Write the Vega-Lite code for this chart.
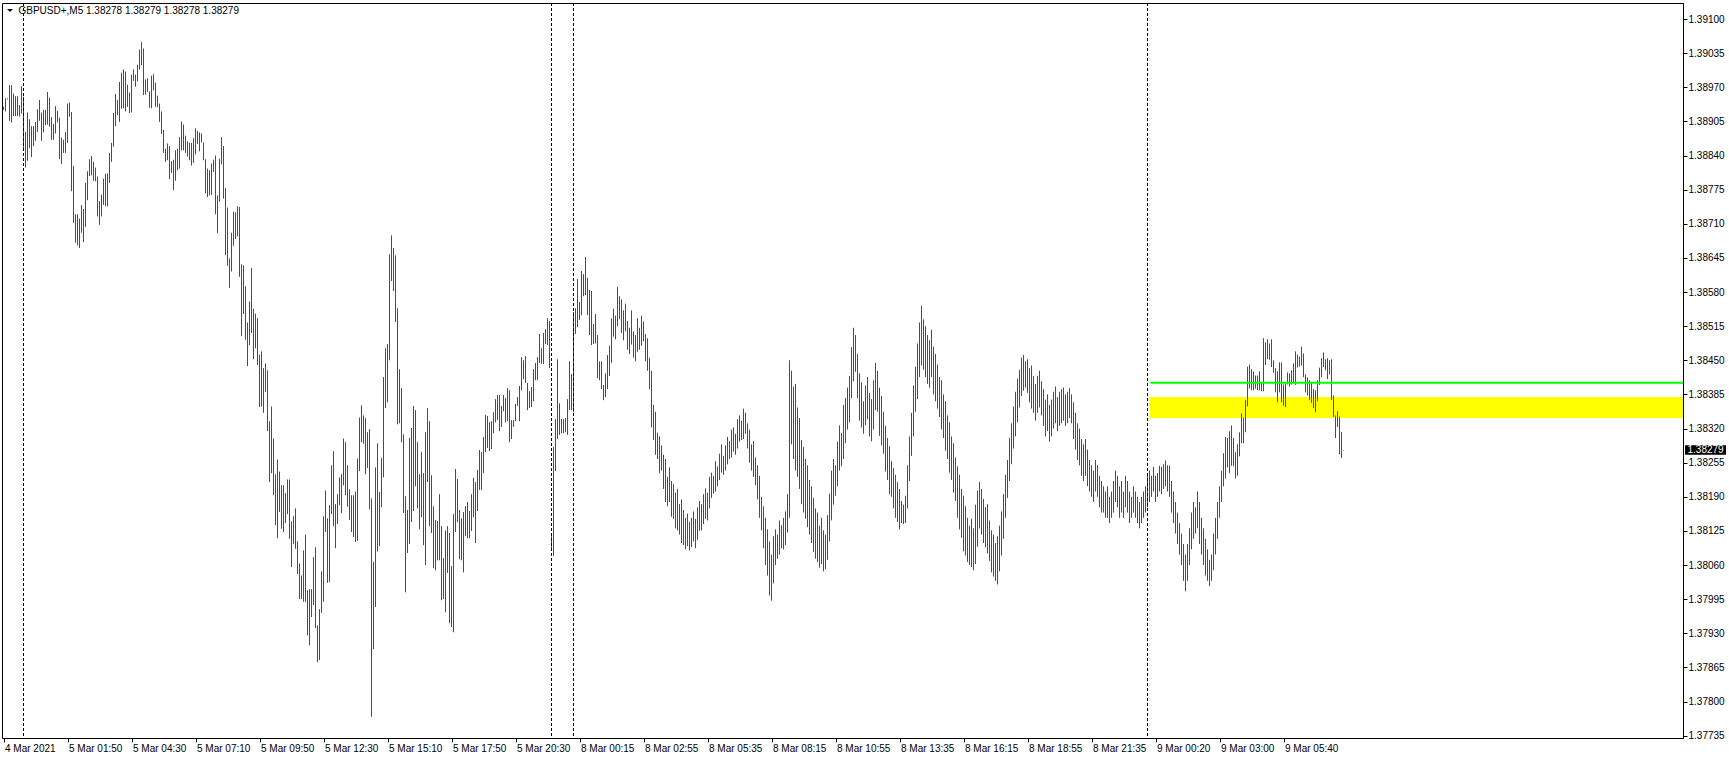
{
"$schema":"https://vega.github.io/schema/vega-lite/v6.json",
"width":1681,"height":735,
"autosize":{"type":"none"},
"padding":{"left":2,"top":3,"right":46,"bottom":21},
"background":"white",
"config":{"view":{"stroke":"black","strokeWidth":1}},
"datasets":{
"bars":[
{"i":0,"h":1.38933,"l":1.38927},{"i":1,"h":1.38949,"l":1.38924},{"i":2,"h":1.38949,"l":1.38947},{"i":3,"h":1.38974,"l":1.38906},{"i":4,"h":1.38974,"l":1.38903},{"i":5,"h":1.38958,"l":1.38915},{"i":6,"h":1.38953,"l":1.38915},{"i":7,"h":1.38953,"l":1.38915},{"i":8,"h":1.38936,"l":1.38914},{"i":9,"h":1.38972,"l":1.3892},
{"i":10,"h":1.38952,"l":1.38854},{"i":11,"h":1.38885,"l":1.38817},{"i":12,"h":1.38922,"l":1.3883},{"i":13,"h":1.38909,"l":1.38854},{"i":14,"h":1.38896,"l":1.38837},{"i":15,"h":1.38896,"l":1.38858},{"i":16,"h":1.38904,"l":1.38868},{"i":17,"h":1.38928,"l":1.38885},{"i":18,"h":1.38946,"l":1.38906},{"i":19,"h":1.38922,"l":1.38868},
{"i":20,"h":1.38927,"l":1.38884},{"i":21,"h":1.38927,"l":1.38898},{"i":22,"h":1.38961,"l":1.38899},{"i":23,"h":1.3895,"l":1.38895},{"i":24,"h":1.38913,"l":1.3887},{"i":25,"h":1.389,"l":1.3887},{"i":26,"h":1.38934,"l":1.38882},{"i":27,"h":1.38925,"l":1.38903},{"i":28,"h":1.38912,"l":1.38833},{"i":29,"h":1.38874,"l":1.38824},
{"i":30,"h":1.3887,"l":1.38845},{"i":31,"h":1.38885,"l":1.38845},{"i":32,"h":1.38939,"l":1.38864},{"i":33,"h":1.38941,"l":1.38914},{"i":34,"h":1.38923,"l":1.38772},{"i":35,"h":1.3882,"l":1.38712},{"i":36,"h":1.38728,"l":1.38674},{"i":37,"h":1.38728,"l":1.38669},{"i":38,"h":1.3872,"l":1.38664},{"i":39,"h":1.38746,"l":1.38693},
{"i":40,"h":1.38738,"l":1.38675},{"i":41,"h":1.38788,"l":1.38704},{"i":42,"h":1.3881,"l":1.38755},{"i":43,"h":1.38833,"l":1.38801},{"i":44,"h":1.38839,"l":1.38802},{"i":45,"h":1.38828,"l":1.38792},{"i":46,"h":1.38817,"l":1.38791},{"i":47,"h":1.388,"l":1.38724},{"i":48,"h":1.38753,"l":1.38708},{"i":49,"h":1.38765,"l":1.38724},
{"i":50,"h":1.38796,"l":1.38746},{"i":51,"h":1.38805,"l":1.38744},{"i":52,"h":1.38806,"l":1.38743},{"i":53,"h":1.38845,"l":1.38788},{"i":54,"h":1.38864,"l":1.38828},{"i":55,"h":1.38921,"l":1.38857},{"i":56,"h":1.38957,"l":1.38896},{"i":57,"h":1.38946,"l":1.38917},{"i":58,"h":1.3898,"l":1.38904},{"i":59,"h":1.38998,"l":1.38929},
{"i":60,"h":1.39004,"l":1.3893},{"i":61,"h":1.39,"l":1.38924},{"i":62,"h":1.38975,"l":1.38933},{"i":63,"h":1.3896,"l":1.38921},{"i":64,"h":1.38994,"l":1.38922},{"i":65,"h":1.39004,"l":1.38982},{"i":66,"h":1.38994,"l":1.38971},{"i":67,"h":1.39013,"l":1.38981},{"i":68,"h":1.39042,"l":1.39004},{"i":69,"h":1.39056,"l":1.39012},
{"i":70,"h":1.39044,"l":1.38955},{"i":71,"h":1.38985,"l":1.38956},{"i":72,"h":1.38987,"l":1.38961},{"i":73,"h":1.38962,"l":1.38931},{"i":74,"h":1.38992,"l":1.3893},{"i":75,"h":1.38995,"l":1.38964},{"i":76,"h":1.38979,"l":1.38933},{"i":77,"h":1.38954,"l":1.38932},{"i":78,"h":1.38939,"l":1.38904},{"i":79,"h":1.38924,"l":1.38881},
{"i":80,"h":1.38889,"l":1.38845},{"i":81,"h":1.38853,"l":1.38828},{"i":82,"h":1.38863,"l":1.38831},{"i":83,"h":1.38858,"l":1.38795},{"i":84,"h":1.38829,"l":1.38807},{"i":85,"h":1.38832,"l":1.38774},{"i":86,"h":1.3885,"l":1.38792},{"i":87,"h":1.38853,"l":1.38812},{"i":88,"h":1.38875,"l":1.38815},{"i":89,"h":1.38905,"l":1.3885},
{"i":90,"h":1.38899,"l":1.3885},{"i":91,"h":1.38878,"l":1.38845},{"i":92,"h":1.38867,"l":1.38838},{"i":93,"h":1.38864,"l":1.38831},{"i":94,"h":1.38864,"l":1.38821},{"i":95,"h":1.38873,"l":1.38826},{"i":96,"h":1.38892,"l":1.38842},{"i":97,"h":1.38887,"l":1.38862},{"i":98,"h":1.38884,"l":1.38848},{"i":99,"h":1.38882,"l":1.38865},
{"i":100,"h":1.38865,"l":1.38831},{"i":101,"h":1.38833,"l":1.38768},{"i":102,"h":1.38815,"l":1.38761},{"i":103,"h":1.38812,"l":1.38764},{"i":104,"h":1.38825,"l":1.38765},{"i":105,"h":1.38832,"l":1.38809},{"i":106,"h":1.3884,"l":1.38728},{"i":107,"h":1.38764,"l":1.38692},{"i":108,"h":1.38834,"l":1.38752},{"i":109,"h":1.38875,"l":1.38823},
{"i":110,"h":1.38858,"l":1.38758},{"i":111,"h":1.38778,"l":1.3865},{"i":112,"h":1.38741,"l":1.3863},{"i":113,"h":1.38644,"l":1.38588},{"i":114,"h":1.38693,"l":1.38619},{"i":115,"h":1.38733,"l":1.38668},{"i":116,"h":1.38732,"l":1.38681},{"i":117,"h":1.38743,"l":1.38686},{"i":118,"h":1.38742,"l":1.38609},{"i":119,"h":1.38633,"l":1.38496},
{"i":120,"h":1.38631,"l":1.38538},{"i":121,"h":1.38591,"l":1.38489},{"i":122,"h":1.38522,"l":1.38439},{"i":123,"h":1.38562,"l":1.38479},{"i":124,"h":1.38626,"l":1.38502},{"i":125,"h":1.38548,"l":1.38452},{"i":126,"h":1.38539,"l":1.38473},{"i":127,"h":1.3853,"l":1.38441},{"i":128,"h":1.38461,"l":1.38361},{"i":129,"h":1.38467,"l":1.38362},
{"i":130,"h":1.38435,"l":1.3835},{"i":131,"h":1.38444,"l":1.3839},{"i":132,"h":1.38431,"l":1.38315},{"i":133,"h":1.38334,"l":1.38218},{"i":134,"h":1.38362,"l":1.38235},{"i":135,"h":1.38301,"l":1.38193},{"i":136,"h":1.38233,"l":1.38136},{"i":137,"h":1.38261,"l":1.38111},{"i":138,"h":1.38238,"l":1.38161},{"i":139,"h":1.38212,"l":1.38129},
{"i":140,"h":1.38212,"l":1.38123},{"i":141,"h":1.38197,"l":1.3814},{"i":142,"h":1.38223,"l":1.38157},{"i":143,"h":1.38223,"l":1.3811},{"i":144,"h":1.38143,"l":1.38056},{"i":145,"h":1.38153,"l":1.381},{"i":146,"h":1.38168,"l":1.38091},{"i":147,"h":1.38105,"l":1.38043},{"i":148,"h":1.38063,"l":1.37995},{"i":149,"h":1.3804,"l":1.37995},
{"i":150,"h":1.38088,"l":1.3799},{"i":151,"h":1.38118,"l":1.3799},{"i":152,"h":1.38012,"l":1.37926},{"i":153,"h":1.38014,"l":1.37907},{"i":154,"h":1.38014,"l":1.37961},{"i":155,"h":1.38075,"l":1.37984},{"i":156,"h":1.38094,"l":1.3794},{"i":157,"h":1.37945,"l":1.37875},{"i":158,"h":1.37976,"l":1.37879},{"i":159,"h":1.38048,"l":1.37969},
{"i":160,"h":1.38153,"l":1.3799},{"i":161,"h":1.38202,"l":1.38123},{"i":162,"h":1.38149,"l":1.38026},{"i":163,"h":1.38174,"l":1.38028},{"i":164,"h":1.3825,"l":1.38157},{"i":165,"h":1.38277,"l":1.38134},{"i":166,"h":1.38176,"l":1.38092},{"i":167,"h":1.38195,"l":1.38138},{"i":168,"h":1.38227,"l":1.38174},{"i":169,"h":1.38233,"l":1.38159},
{"i":170,"h":1.38301,"l":1.38212},{"i":171,"h":1.38294,"l":1.38193},{"i":172,"h":1.3825,"l":1.38171},{"i":173,"h":1.38204,"l":1.38146},{"i":174,"h":1.38193,"l":1.38123},{"i":175,"h":1.38193,"l":1.38113},{"i":176,"h":1.382,"l":1.38104},{"i":177,"h":1.38263,"l":1.38106},{"i":178,"h":1.38341,"l":1.38239},{"i":179,"h":1.38364,"l":1.38294},
{"i":180,"h":1.38345,"l":1.38291},{"i":181,"h":1.3834,"l":1.38233},{"i":182,"h":1.38313,"l":1.38245},{"i":183,"h":1.38319,"l":1.38166},{"i":184,"h":1.38187,"l":1.37771},{"i":185,"h":1.38066,"l":1.379},{"i":186,"h":1.38246,"l":1.3798},{"i":187,"h":1.38292,"l":1.38086},{"i":188,"h":1.38199,"l":1.38096},{"i":189,"h":1.38264,"l":1.3817},
{"i":190,"h":1.38418,"l":1.38227},{"i":191,"h":1.38473,"l":1.38359},{"i":192,"h":1.38481,"l":1.3837},{"i":193,"h":1.38652,"l":1.3845},{"i":194,"h":1.38688,"l":1.38601},{"i":195,"h":1.38664,"l":1.38582},{"i":196,"h":1.3865,"l":1.38523},{"i":197,"h":1.38549,"l":1.38328},{"i":198,"h":1.38433,"l":1.3833},{"i":199,"h":1.38397,"l":1.38294},
{"i":200,"h":1.38309,"l":1.38159},{"i":201,"h":1.38191,"l":1.38008},{"i":202,"h":1.38165,"l":1.38083},{"i":203,"h":1.38302,"l":1.381},{"i":204,"h":1.38321,"l":1.38142},{"i":205,"h":1.38363,"l":1.38163},{"i":206,"h":1.38355,"l":1.3821},{"i":207,"h":1.38294,"l":1.38168},{"i":208,"h":1.38233,"l":1.38128},{"i":209,"h":1.38275,"l":1.38151},
{"i":210,"h":1.38235,"l":1.38098},{"i":211,"h":1.38313,"l":1.3806},{"i":212,"h":1.38359,"l":1.38218},{"i":213,"h":1.38334,"l":1.38134},{"i":214,"h":1.38231,"l":1.38121},{"i":215,"h":1.38172,"l":1.38054},{"i":216,"h":1.38146,"l":1.3805},{"i":217,"h":1.38144,"l":1.38069},{"i":218,"h":1.38195,"l":1.38069},{"i":219,"h":1.38134,"l":1.37993},
{"i":220,"h":1.38073,"l":1.37995},{"i":221,"h":1.38126,"l":1.3797},{"i":222,"h":1.38134,"l":1.38045},{"i":223,"h":1.38121,"l":1.37949},{"i":224,"h":1.38058,"l":1.37942},{"i":225,"h":1.38157,"l":1.37932},{"i":226,"h":1.38243,"l":1.38123},{"i":227,"h":1.38224,"l":1.38142},{"i":228,"h":1.38165,"l":1.38071},{"i":229,"h":1.38149,"l":1.38069},
{"i":230,"h":1.38161,"l":1.38046},{"i":231,"h":1.38172,"l":1.38115},{"i":232,"h":1.3818,"l":1.38111},{"i":233,"h":1.38163,"l":1.38111},{"i":234,"h":1.38195,"l":1.38125},{"i":235,"h":1.38226,"l":1.38151},{"i":236,"h":1.38218,"l":1.38102},{"i":237,"h":1.38241,"l":1.38163},{"i":238,"h":1.38279,"l":1.38203},{"i":239,"h":1.38275,"l":1.38203},
{"i":240,"h":1.38304,"l":1.38235},{"i":241,"h":1.38346,"l":1.38275},{"i":242,"h":1.38344,"l":1.38283},{"i":243,"h":1.38332,"l":1.38277},{"i":244,"h":1.38334,"l":1.38281},{"i":245,"h":1.38351,"l":1.38311},{"i":246,"h":1.38376,"l":1.38332},{"i":247,"h":1.38384,"l":1.38336},{"i":248,"h":1.38384,"l":1.38315},{"i":249,"h":1.38363,"l":1.38323},
{"i":250,"h":1.38384,"l":1.38353},{"i":251,"h":1.38378,"l":1.38332},{"i":252,"h":1.38397,"l":1.38334},{"i":253,"h":1.38393,"l":1.38294},{"i":254,"h":1.38336,"l":1.383},{"i":255,"h":1.38336,"l":1.38323},{"i":256,"h":1.38367,"l":1.38334},{"i":257,"h":1.3838,"l":1.38363},{"i":258,"h":1.38401,"l":1.38334},{"i":259,"h":1.38456,"l":1.38393},
{"i":260,"h":1.3845,"l":1.38414},{"i":261,"h":1.38458,"l":1.38407},{"i":262,"h":1.38407,"l":1.38355},{"i":263,"h":1.38391,"l":1.38359},{"i":264,"h":1.38399,"l":1.38361},{"i":265,"h":1.38433,"l":1.38372},{"i":266,"h":1.38445,"l":1.38412},{"i":267,"h":1.38456,"l":1.38412},{"i":268,"h":1.385,"l":1.38445},{"i":269,"h":1.38473,"l":1.38443},
{"i":270,"h":1.38502,"l":1.38443},{"i":271,"h":1.38509,"l":1.38481},{"i":272,"h":1.3853,"l":1.38479},{"i":273,"h":1.38525,"l":1.38435},{"i":274,"h":1.38115,"l":1.38087},{"i":275,"h":1.38285,"l":1.38077},{"i":276,"h":1.38338,"l":1.38239},{"i":277,"h":1.38452,"l":1.383},{"i":278,"h":1.38368,"l":1.38308},{"i":279,"h":1.38338,"l":1.38311},
{"i":280,"h":1.38338,"l":1.38311},{"i":281,"h":1.3834,"l":1.38313},{"i":282,"h":1.38376,"l":1.38308},{"i":283,"h":1.38448,"l":1.38355},{"i":284,"h":1.38424,"l":1.38355},{"i":285,"h":1.38542,"l":1.38351},{"i":286,"h":1.38549,"l":1.385},{"i":287,"h":1.38605,"l":1.38513},{"i":288,"h":1.38561,"l":1.38527},{"i":289,"h":1.3862,"l":1.38536},
{"i":290,"h":1.38614,"l":1.38572},{"i":291,"h":1.38647,"l":1.38574},{"i":292,"h":1.38607,"l":1.38536},{"i":293,"h":1.38584,"l":1.38498},{"i":294,"h":1.38582,"l":1.38479},{"i":295,"h":1.38519,"l":1.38481},{"i":296,"h":1.38538,"l":1.38482},{"i":297,"h":1.38498,"l":1.38416},{"i":298,"h":1.38448,"l":1.38412},{"i":299,"h":1.38448,"l":1.38395},
{"i":300,"h":1.38403,"l":1.38374},{"i":301,"h":1.38425,"l":1.3838},{"i":302,"h":1.3846,"l":1.38395},{"i":303,"h":1.38478,"l":1.3842},{"i":304,"h":1.3853,"l":1.38445},{"i":305,"h":1.38548,"l":1.38495},{"i":306,"h":1.38535,"l":1.3849},{"i":307,"h":1.3859,"l":1.38515},{"i":308,"h":1.38572,"l":1.38528},{"i":309,"h":1.38566,"l":1.38502},
{"i":310,"h":1.38545,"l":1.38488},{"i":311,"h":1.38558,"l":1.38505},{"i":312,"h":1.38525,"l":1.3847},{"i":313,"h":1.38512,"l":1.38462},{"i":314,"h":1.38545,"l":1.3848},{"i":315,"h":1.38505,"l":1.38455},{"i":316,"h":1.38498,"l":1.38448},{"i":317,"h":1.3853,"l":1.38466},{"i":318,"h":1.38512,"l":1.3847},{"i":319,"h":1.38535,"l":1.38478},
{"i":320,"h":1.38524,"l":1.38486},{"i":321,"h":1.385,"l":1.38448},{"i":322,"h":1.38492,"l":1.3843},{"i":323,"h":1.38455,"l":1.38395},{"i":324,"h":1.3843,"l":1.38322},{"i":325,"h":1.38365,"l":1.38298},{"i":326,"h":1.38352,"l":1.3827},{"i":327,"h":1.38312,"l":1.38262},{"i":328,"h":1.38305,"l":1.38235},{"i":329,"h":1.38288,"l":1.3824},
{"i":330,"h":1.3827,"l":1.38205},{"i":331,"h":1.38262,"l":1.3818},{"i":332,"h":1.38228,"l":1.38172},{"i":333,"h":1.38246,"l":1.3818},{"i":334,"h":1.3822,"l":1.38152},{"i":335,"h":1.38214,"l":1.38148},{"i":336,"h":1.38198,"l":1.3813},{"i":337,"h":1.38205,"l":1.38126},{"i":338,"h":1.38176,"l":1.38118},{"i":339,"h":1.38185,"l":1.38102},
{"i":340,"h":1.38165,"l":1.38098},{"i":341,"h":1.3815,"l":1.3809},{"i":342,"h":1.38158,"l":1.38096},{"i":343,"h":1.38142,"l":1.38088},{"i":344,"h":1.3815,"l":1.38094},{"i":345,"h":1.38162,"l":1.38105},{"i":346,"h":1.38148,"l":1.38092},{"i":347,"h":1.3817,"l":1.38108},{"i":348,"h":1.38182,"l":1.38125},{"i":349,"h":1.38176,"l":1.38126},
{"i":350,"h":1.38195,"l":1.38138},{"i":351,"h":1.38206,"l":1.38148},{"i":352,"h":1.38198,"l":1.38145},{"i":353,"h":1.38228,"l":1.38168},{"i":354,"h":1.38236,"l":1.38188},{"i":355,"h":1.3823,"l":1.38196},{"i":356,"h":1.38258,"l":1.382},{"i":357,"h":1.38248,"l":1.3821},{"i":358,"h":1.38272,"l":1.38222},{"i":359,"h":1.3829,"l":1.38236},
{"i":360,"h":1.38268,"l":1.38232},{"i":361,"h":1.38288,"l":1.3824},{"i":362,"h":1.38304,"l":1.38252},{"i":363,"h":1.38296,"l":1.38262},{"i":364,"h":1.38318,"l":1.38265},{"i":365,"h":1.38322,"l":1.38276},{"i":366,"h":1.3831,"l":1.3827},{"i":367,"h":1.38338,"l":1.38282},{"i":368,"h":1.38345,"l":1.38295},{"i":369,"h":1.38335,"l":1.38298},
{"i":370,"h":1.38358,"l":1.383},{"i":371,"h":1.3835,"l":1.3831},{"i":372,"h":1.3833,"l":1.38282},{"i":373,"h":1.38318,"l":1.38255},{"i":374,"h":1.3829,"l":1.3824},{"i":375,"h":1.38296,"l":1.38228},{"i":376,"h":1.38265,"l":1.38212},{"i":377,"h":1.3825,"l":1.38185},{"i":378,"h":1.3823,"l":1.3815},{"i":379,"h":1.3819,"l":1.38126},
{"i":380,"h":1.38172,"l":1.38092},{"i":381,"h":1.3815,"l":1.3806},{"i":382,"h":1.38128,"l":1.3804},{"i":383,"h":1.38105,"l":1.38002},{"i":384,"h":1.3808,"l":1.37992},{"i":385,"h":1.38115,"l":1.38025},{"i":386,"h":1.38128,"l":1.3806},{"i":387,"h":1.38118,"l":1.38072},{"i":388,"h":1.38145,"l":1.3808},{"i":389,"h":1.38136,"l":1.38092},
{"i":390,"h":1.3815,"l":1.3809},{"i":391,"h":1.38162,"l":1.38098},{"i":392,"h":1.38195,"l":1.38122},{"i":393,"h":1.3845,"l":1.3815},{"i":394,"h":1.3843,"l":1.3829},{"i":395,"h":1.384,"l":1.38262},{"i":396,"h":1.38405,"l":1.3824},{"i":397,"h":1.3836,"l":1.38228},{"i":398,"h":1.3834,"l":1.38205},{"i":399,"h":1.38298,"l":1.38176},
{"i":400,"h":1.38285,"l":1.3816},{"i":401,"h":1.38262,"l":1.38148},{"i":402,"h":1.3825,"l":1.38132},{"i":403,"h":1.38222,"l":1.38118},{"i":404,"h":1.3821,"l":1.38102},{"i":405,"h":1.38188,"l":1.38085},{"i":406,"h":1.38168,"l":1.38072},{"i":407,"h":1.3816,"l":1.38066},{"i":408,"h":1.38135,"l":1.38055},{"i":409,"h":1.3815,"l":1.38062},
{"i":410,"h":1.38126,"l":1.38048},{"i":411,"h":1.38118,"l":1.38052},{"i":412,"h":1.38155,"l":1.3807},{"i":413,"h":1.38196,"l":1.38105},{"i":414,"h":1.3824,"l":1.38145},{"i":415,"h":1.38262,"l":1.38175},{"i":416,"h":1.3825,"l":1.38192},{"i":417,"h":1.38295,"l":1.3821},{"i":418,"h":1.38326,"l":1.3824},{"i":419,"h":1.38312,"l":1.38248},
{"i":420,"h":1.38365,"l":1.38262},{"i":421,"h":1.38378,"l":1.38292},{"i":422,"h":1.38398,"l":1.38318},{"i":423,"h":1.3842,"l":1.38332},{"i":424,"h":1.38475,"l":1.38378},{"i":425,"h":1.38512,"l":1.3841},{"i":426,"h":1.38498,"l":1.38428},{"i":427,"h":1.38462,"l":1.38378},{"i":428,"h":1.38425,"l":1.38335},{"i":429,"h":1.38408,"l":1.38322},
{"i":430,"h":1.38372,"l":1.3831},{"i":431,"h":1.38402,"l":1.38326},{"i":432,"h":1.38418,"l":1.38338},{"i":433,"h":1.38388,"l":1.38305},{"i":434,"h":1.38376,"l":1.38296},{"i":435,"h":1.38412,"l":1.38318},{"i":436,"h":1.38445,"l":1.38355},{"i":437,"h":1.3843,"l":1.38352},{"i":438,"h":1.38398,"l":1.38306},{"i":439,"h":1.38382,"l":1.38288},
{"i":440,"h":1.38352,"l":1.38272},{"i":441,"h":1.38325,"l":1.38238},{"i":442,"h":1.38302,"l":1.38222},{"i":443,"h":1.38286,"l":1.38195},{"i":444,"h":1.38258,"l":1.3819},{"i":445,"h":1.38245,"l":1.38168},{"i":446,"h":1.38232,"l":1.3815},{"i":447,"h":1.38218,"l":1.38142},{"i":448,"h":1.38205,"l":1.38128},{"i":449,"h":1.38182,"l":1.3814},
{"i":450,"h":1.38175,"l":1.38138},{"i":451,"h":1.38192,"l":1.3814},{"i":452,"h":1.3825,"l":1.38168},{"i":453,"h":1.38305,"l":1.3822},{"i":454,"h":1.3835,"l":1.38268},{"i":455,"h":1.38402,"l":1.38305},{"i":456,"h":1.38438,"l":1.38352},{"i":457,"h":1.38482,"l":1.38376},{"i":458,"h":1.38522,"l":1.38418},{"i":459,"h":1.38554,"l":1.3844},
{"i":460,"h":1.38528,"l":1.38432},{"i":461,"h":1.38515,"l":1.38418},{"i":462,"h":1.38498,"l":1.38405},{"i":463,"h":1.38488,"l":1.38398},{"i":464,"h":1.38508,"l":1.38418},{"i":465,"h":1.38476,"l":1.38385},{"i":466,"h":1.38462,"l":1.38372},{"i":467,"h":1.38442,"l":1.38358},{"i":468,"h":1.38418,"l":1.38342},{"i":469,"h":1.38412,"l":1.38318},
{"i":470,"h":1.38385,"l":1.38302},{"i":471,"h":1.38372,"l":1.38278},{"i":472,"h":1.38345,"l":1.38262},{"i":473,"h":1.38332,"l":1.38236},{"i":474,"h":1.38305,"l":1.38222},{"i":475,"h":1.38292,"l":1.38198},{"i":476,"h":1.38265,"l":1.38182},{"i":477,"h":1.38248,"l":1.3815},{"i":478,"h":1.38232,"l":1.38128},{"i":479,"h":1.38205,"l":1.38112},
{"i":480,"h":1.38192,"l":1.38086},{"i":481,"h":1.38172,"l":1.38078},{"i":482,"h":1.3815,"l":1.38066},{"i":483,"h":1.38135,"l":1.3806},{"i":484,"h":1.38148,"l":1.38056},{"i":485,"h":1.3813,"l":1.3805},{"i":486,"h":1.38175,"l":1.38062},{"i":487,"h":1.38202,"l":1.38095},{"i":488,"h":1.38218,"l":1.3813},{"i":489,"h":1.38205,"l":1.38118},
{"i":490,"h":1.38186,"l":1.38102},{"i":491,"h":1.3817,"l":1.38094},{"i":492,"h":1.38176,"l":1.38082},{"i":493,"h":1.38145,"l":1.38068},{"i":494,"h":1.38126,"l":1.38046},{"i":495,"h":1.38118,"l":1.38038},{"i":496,"h":1.38102,"l":1.3803},{"i":497,"h":1.38115,"l":1.38023},{"i":498,"h":1.38135,"l":1.38048},{"i":499,"h":1.38162,"l":1.38078},
{"i":500,"h":1.38195,"l":1.3811},{"i":501,"h":1.38232,"l":1.3815},{"i":502,"h":1.3826,"l":1.38188},{"i":503,"h":1.38302,"l":1.3822},{"i":504,"h":1.3833,"l":1.38252},{"i":505,"h":1.38362,"l":1.38282},{"i":506,"h":1.3839,"l":1.38305},{"i":507,"h":1.38415,"l":1.38332},{"i":508,"h":1.38432,"l":1.3836},{"i":509,"h":1.38455,"l":1.38382},
{"i":510,"h":1.3846,"l":1.38392},{"i":511,"h":1.38448,"l":1.38398},{"i":512,"h":1.38452,"l":1.38388},{"i":513,"h":1.38435,"l":1.3837},{"i":514,"h":1.3844,"l":1.38358},{"i":515,"h":1.3842,"l":1.3835},{"i":516,"h":1.38405,"l":1.38335},{"i":517,"h":1.3842,"l":1.3835},{"i":518,"h":1.3843,"l":1.3836},{"i":519,"h":1.3841,"l":1.38345},
{"i":520,"h":1.38395,"l":1.38325},{"i":521,"h":1.38375,"l":1.38305},{"i":522,"h":1.38385,"l":1.38315},{"i":523,"h":1.38365,"l":1.38295},{"i":524,"h":1.38375,"l":1.38305},{"i":525,"h":1.3839,"l":1.3832},{"i":526,"h":1.384,"l":1.3833},{"i":527,"h":1.3838,"l":1.38315},{"i":528,"h":1.3839,"l":1.38325},{"i":529,"h":1.38395,"l":1.3833},
{"i":530,"h":1.38398,"l":1.38335},{"i":531,"h":1.38385,"l":1.38325},{"i":532,"h":1.3839,"l":1.3833},{"i":533,"h":1.38397,"l":1.3834},{"i":534,"h":1.38385,"l":1.3833},{"i":535,"h":1.3837,"l":1.383},{"i":536,"h":1.3835,"l":1.3828},{"i":537,"h":1.3833,"l":1.3826},{"i":538,"h":1.3832,"l":1.3825},{"i":539,"h":1.383,"l":1.3823},
{"i":540,"h":1.3829,"l":1.3822},{"i":541,"h":1.383,"l":1.3823},{"i":542,"h":1.3828,"l":1.3821},{"i":543,"h":1.3826,"l":1.382},{"i":544,"h":1.3825,"l":1.3819},{"i":545,"h":1.3824,"l":1.3818},{"i":546,"h":1.3826,"l":1.382},{"i":547,"h":1.3825,"l":1.3819},{"i":548,"h":1.3823,"l":1.3817},{"i":549,"h":1.3822,"l":1.3816},
{"i":550,"h":1.3821,"l":1.3816},{"i":551,"h":1.382,"l":1.3815},{"i":552,"h":1.3821,"l":1.3815},{"i":553,"h":1.3819,"l":1.3814},{"i":554,"h":1.382,"l":1.3815},{"i":555,"h":1.3822,"l":1.3816},{"i":556,"h":1.3824,"l":1.3818},{"i":557,"h":1.3823,"l":1.3817},{"i":558,"h":1.3821,"l":1.3815},{"i":559,"h":1.3822,"l":1.3816},
{"i":560,"h":1.382,"l":1.3815},{"i":561,"h":1.3823,"l":1.3817},{"i":562,"h":1.3822,"l":1.3816},{"i":563,"h":1.382,"l":1.3814},{"i":564,"h":1.3819,"l":1.3815},{"i":565,"h":1.3821,"l":1.3816},{"i":566,"h":1.382,"l":1.3815},{"i":567,"h":1.3819,"l":1.3814},{"i":568,"h":1.3818,"l":1.3813},{"i":569,"h":1.3819,"l":1.3814},
{"i":570,"h":1.382,"l":1.3815},{"i":571,"h":1.3821,"l":1.3816},{"i":572,"h":1.3823,"l":1.3817},{"i":573,"h":1.3824,"l":1.3818},{"i":574,"h":1.3823,"l":1.3819},{"i":575,"h":1.38247,"l":1.382},{"i":576,"h":1.3823,"l":1.3818},{"i":577,"h":1.38235,"l":1.3819},{"i":578,"h":1.38249,"l":1.382},{"i":579,"h":1.38247,"l":1.38195},
{"i":580,"h":1.38252,"l":1.38205},{"i":581,"h":1.38259,"l":1.3821},{"i":582,"h":1.3825,"l":1.382},{"i":583,"h":1.38249,"l":1.3819},{"i":584,"h":1.3822,"l":1.3816},{"i":585,"h":1.382,"l":1.3814},{"i":586,"h":1.3818,"l":1.3812},{"i":587,"h":1.3816,"l":1.381},{"i":588,"h":1.3814,"l":1.3808},{"i":589,"h":1.3812,"l":1.3806},
{"i":590,"h":1.381,"l":1.3803},{"i":591,"h":1.3808,"l":1.3801},{"i":592,"h":1.381,"l":1.3803},{"i":593,"h":1.3813,"l":1.3806},{"i":594,"h":1.3816,"l":1.3809},{"i":595,"h":1.3818,"l":1.3811},{"i":596,"h":1.3817,"l":1.3812},{"i":597,"h":1.382,"l":1.3813},{"i":598,"h":1.3818,"l":1.381},{"i":599,"h":1.3815,"l":1.3808},
{"i":600,"h":1.3813,"l":1.3806},{"i":601,"h":1.3811,"l":1.3804},{"i":602,"h":1.3809,"l":1.3803},{"i":603,"h":1.3807,"l":1.3802},{"i":604,"h":1.3808,"l":1.3803},{"i":605,"h":1.3812,"l":1.3805},{"i":606,"h":1.3815,"l":1.3808},{"i":607,"h":1.3818,"l":1.3811},{"i":608,"h":1.3821,"l":1.3815},{"i":609,"h":1.3824,"l":1.3818},
{"i":610,"h":1.38273,"l":1.3821},{"i":611,"h":1.38304,"l":1.38225},{"i":612,"h":1.38302,"l":1.38246},{"i":613,"h":1.38315,"l":1.38235},{"i":614,"h":1.38326,"l":1.38249},{"i":615,"h":1.38302,"l":1.38248},{"i":616,"h":1.38275,"l":1.38225},{"i":617,"h":1.3829,"l":1.3823},{"i":618,"h":1.38313,"l":1.38267},{"i":619,"h":1.38349,"l":1.38292},
{"i":620,"h":1.38341,"l":1.38292},{"i":621,"h":1.38374,"l":1.38313},{"i":622,"h":1.38438,"l":1.38362},{"i":623,"h":1.38442,"l":1.38396},{"i":624,"h":1.38433,"l":1.38393},{"i":625,"h":1.38429,"l":1.38393},{"i":626,"h":1.38421,"l":1.38396},{"i":627,"h":1.38421,"l":1.38393},{"i":628,"h":1.38429,"l":1.38393},{"i":629,"h":1.38408,"l":1.38391},
{"i":630,"h":1.38492,"l":1.38391},{"i":631,"h":1.38484,"l":1.38441},{"i":632,"h":1.3849,"l":1.38452},{"i":633,"h":1.38482,"l":1.38451},{"i":634,"h":1.3849,"l":1.38437},{"i":635,"h":1.3845,"l":1.38426},{"i":636,"h":1.38435,"l":1.38389},{"i":637,"h":1.38429,"l":1.3837},{"i":638,"h":1.38446,"l":1.38389},{"i":639,"h":1.38446,"l":1.3837},
{"i":640,"h":1.38404,"l":1.38364},{"i":641,"h":1.38406,"l":1.38361},{"i":642,"h":1.38427,"l":1.38404},{"i":643,"h":1.38425,"l":1.384},{"i":644,"h":1.38431,"l":1.38404},{"i":645,"h":1.38444,"l":1.38407},{"i":646,"h":1.38467,"l":1.38403},{"i":647,"h":1.38461,"l":1.38436},{"i":648,"h":1.38457,"l":1.38438},{"i":649,"h":1.38476,"l":1.3844},
{"i":650,"h":1.38463,"l":1.38418},{"i":651,"h":1.38423,"l":1.38389},{"i":652,"h":1.38417,"l":1.38383},{"i":653,"h":1.38412,"l":1.38374},{"i":654,"h":1.38408,"l":1.38369},{"i":655,"h":1.38395,"l":1.38359},{"i":656,"h":1.38393,"l":1.38351},{"i":657,"h":1.38412,"l":1.38372},{"i":658,"h":1.38436,"l":1.38403},{"i":659,"h":1.38454,"l":1.38418},
{"i":660,"h":1.38465,"l":1.38437},{"i":661,"h":1.38452,"l":1.38431},{"i":662,"h":1.38454,"l":1.38414},{"i":663,"h":1.3845,"l":1.38423},{"i":664,"h":1.38452,"l":1.38374},{"i":665,"h":1.38383,"l":1.38342},{"i":666,"h":1.38345,"l":1.38302},{"i":667,"h":1.38353,"l":1.38323},{"i":668,"h":1.38343,"l":1.38271},{"i":669,"h":1.38313,"l":1.38264},
{"i":670,"h":1.38279,"l":1.38278}
],
"seps":[{"i":10},{"i":274},{"i":285},{"i":572}],
"zone":[{"x1":573,"x2":839.75,"y1":1.3838,"y2":1.3834}],
"lvl":[{"x1":573.5,"x2":839.75,"y":1.38407}],
"tag":[{"x1":840.75,"x2":861.25,"y1":1.38288,"y2":1.38270,"tx":842,"ty":1.38279,"t":"1.38279"}],
"hdr":[{"x":7.5,"y":1.39116,"t":"GBPUSD+,M5  1.38278 1.38279 1.38278 1.38279","tx":3.25}]
},
"layer":[
{"data":{"name":"zone"},"mark":{"type":"rect","color":"#FFFF00","clip":true},
 "encoding":{
  "x":{"field":"x1","type":"quantitative","title":null,"scale":{"domain":[-0.75,839.75],"nice":false,"zero":false},
   "axis":{"orient":"bottom","values":[0,32,64,96,128,160,192,224,256,288,320,352,384,416,448,480,512,544,576,608,640],"tickCount":100,
    "labelExpr":"['4 Mar 2021','5 Mar 01:50','5 Mar 04:30','5 Mar 07:10','5 Mar 09:50','5 Mar 12:30','5 Mar 15:10','5 Mar 17:50','5 Mar 20:30','8 Mar 00:15','8 Mar 02:55','8 Mar 05:35','8 Mar 08:15','8 Mar 10:55','8 Mar 13:35','8 Mar 16:15','8 Mar 18:55','8 Mar 21:35','9 Mar 00:20','9 Mar 03:00','9 Mar 05:40'][round(datum.value/32)]",
    "tickSize":4,"tickColor":"black","domainColor":"black","labelColor":"black","labelFont":"Liberation Sans","labelFontSize":10,"labelAlign":"left","labelBaseline":"top","labelPadding":1,"labelOffset":1,"labelFlush":false,"labelOverlap":false,"grid":false,"title":null}},
  "x2":{"field":"x2"},
  "y":{"field":"y1","type":"quantitative","title":null,"scale":{"domain":[1.377306,1.391305],"nice":false,"zero":false},
   "axis":{"orient":"right","values":[1.37735,1.378,1.37865,1.3793,1.37995,1.3806,1.38125,1.3819,1.38255,1.3832,1.38385,1.3845,1.38515,1.3858,1.38645,1.3871,1.38775,1.3884,1.38905,1.3897,1.39035,1.391],"tickCount":100,
    "format":".5f","tickSize":4,"tickColor":"black","domainColor":"black","labelColor":"black","labelFont":"Liberation Sans","labelFontSize":10,"labelAlign":"left","labelBaseline":"middle","labelPadding":1,"labelFlush":false,"labelOverlap":false,"grid":false,"title":null}},
  "y2":{"field":"y2"}}},
{"data":{"name":"bars"},"mark":{"type":"rule","color":"#FF0000","strokeWidth":1},
 "encoding":{"x":{"field":"i","type":"quantitative","title":null},"y":{"field":"h","type":"quantitative","title":null},"y2":{"field":"l"}}},
{"data":{"name":"seps"},"mark":{"type":"rule","color":"black","strokeWidth":1,"strokeDash":[3,2]},
 "encoding":{"x":{"field":"i","type":"quantitative","title":null}}},
{"data":{"name":"lvl"},"mark":{"type":"rule","color":"#00FF00","strokeWidth":2,"clip":true},
 "encoding":{"x":{"field":"x1","type":"quantitative","title":null},"x2":{"field":"x2"},"y":{"field":"y","type":"quantitative","title":null}}},
{"data":{"name":"tag"},"mark":{"type":"rect","color":"black"},
 "encoding":{"x":{"field":"x1","type":"quantitative","title":null},"x2":{"field":"x2"},"y":{"field":"y1","type":"quantitative","title":null},"y2":{"field":"y2"}}},
{"data":{"name":"tag"},"mark":{"type":"text","color":"white","align":"left","baseline":"middle","font":"Liberation Sans","fontSize":10},
 "encoding":{"x":{"field":"tx","type":"quantitative","title":null},"y":{"field":"ty","type":"quantitative","title":null},"text":{"field":"t"}}},
{"data":{"name":"hdr"},"mark":{"type":"text","color":"black","align":"left","baseline":"middle","font":"Liberation Sans","fontSize":10},
 "encoding":{"x":{"field":"x","type":"quantitative","title":null},"y":{"field":"y","type":"quantitative","title":null},"text":{"field":"t"}}},
{"data":{"name":"hdr"},"mark":{"type":"point","shape":"M-1,-0.5L1,-0.5L0,0.5Z","filled":true,"color":"black","size":36,"opacity":1},
 "encoding":{"x":{"field":"tx","type":"quantitative","title":null},"y":{"field":"y","type":"quantitative","title":null}}}
]
}
